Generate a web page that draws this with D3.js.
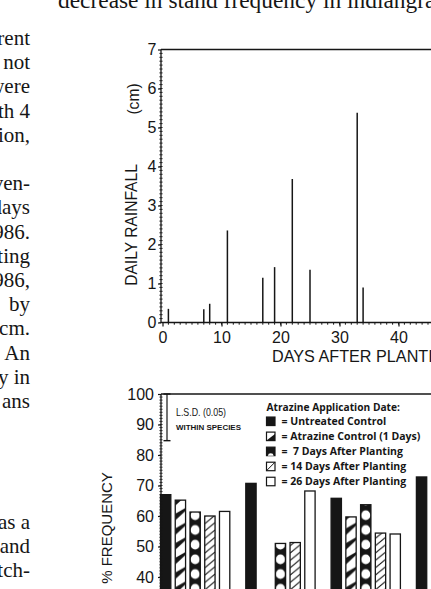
<!DOCTYPE html>
<html>
<head>
<meta charset="utf-8">
<script src="https://cdn.jsdelivr.net/npm/d3@7"></script>
<style>
html, body { margin: 0; padding: 0; background: #fff; }
svg { display: block; }
</style>
</head>
<body>
<svg id="chart" width="431" height="589"></svg>
<script>
// ---- data ----
var captionText = "decrease in stand frequency in indiangrass";
var columnLines = ["rent", "not", "were", "th 4", "ion,", "", "ven-", "days", "986.", "ting", "986,", "by", "cm.", "An", "y in", "ans", "", "", "", "", "as a", "and", "tch-"];

var rainDays = [1, 7, 8, 11, 17, 19, 22, 25, 33, 34];
var rainCm = [0.35, 0.34, 0.48, 2.36, 1.15, 1.42, 3.68, 1.35, 5.38, 0.90];
var rainTicksY = [0, 1, 2, 3, 4, 5, 6, 7];
var rainTicksX = [0, 10, 20, 30, 40, 50];

var species = ["Species 1", "Species 2", "Species 3", "Species 4"];
var treatments = ["Untreated Control", "Atrazine Control (1 Days)", " 7 Days After Planting", "14 Days After Planting", "26 Days After Planting"];
var freqUntreated = [67.0, 70.7, 65.8, 72.8];
var freqAtrControl = [65.2, null, 59.7, null];
var freq7Days = [61.3, 51.0, 63.7, null];
var freq14Days = [60.0, 51.3, 54.4, null];
var freq26Days = [61.5, 68.2, 54.1, null];
var freqTicks = [40, 50, 60, 70, 80, 90, 100];
var lsdValue = 15.3;

var ink = "#161616";
var sans = "'Liberation Sans', Arial, sans-serif";
var serif = "'Liberation Serif', 'Times New Roman', serif";
var legendFont = "'Open Sans', sans-serif";

var svg = d3.select("#chart");
svg.append("rect").attr("width", 431).attr("height", 589).attr("fill", "#fff");

// ---- body text fragments ----
svg.append("text")
    .attr("x", 58).attr("y", 8)
    .attr("font-family", serif).attr("font-size", 23.4).attr("fill", ink)
    .text(captionText);

svg.append("g").selectAll("text")
    .data(columnLines)
    .enter().append("text")
    .attr("x", 30)
    .attr("y", function (d, i) { return 45 + i * 24.2; })
    .attr("text-anchor", "end")
    .attr("font-family", serif).attr("font-size", 21).attr("fill", ink)
    .text(function (d) { return d; });

// ---- rainfall chart ----
var xDay = d3.scaleLinear().domain([0, 50]).range([162.5, 457.5]);
var yRain = d3.scaleLinear().domain([0, 7]).range([322.5, 49.5]);
var rainLeft = 161;

var top1 = svg.append("g");
// frame
top1.append("line").attr("x1", rainLeft).attr("x2", 440).attr("y1", yRain(7)).attr("y2", yRain(7))
    .attr("stroke", ink).attr("stroke-width", 1.6);
top1.append("line").attr("x1", rainLeft).attr("x2", 440).attr("y1", yRain(0)).attr("y2", yRain(0))
    .attr("stroke", ink).attr("stroke-width", 1.3);
top1.append("line").attr("x1", rainLeft).attr("x2", rainLeft).attr("y1", yRain(7)).attr("y2", yRain(0))
    .attr("stroke", ink).attr("stroke-width", 1.3);

// minor ticks
top1.append("g").selectAll("line")
    .data(d3.range(0, 70))
    .enter().append("line")
    .attr("x1", rainLeft - 1.6).attr("x2", rainLeft + 1.6)
    .attr("y1", function (d) { return yRain(d / 10); })
    .attr("y2", function (d) { return yRain(d / 10); })
    .attr("stroke", ink).attr("stroke-width", 0.9);
top1.append("g").selectAll("line")
    .data(d3.range(1, 50))
    .enter().append("line")
    .attr("x1", function (d) { return xDay(d); })
    .attr("x2", function (d) { return xDay(d); })
    .attr("y1", yRain(0)).attr("y2", yRain(0) + 2.2)
    .attr("stroke", ink).attr("stroke-width", 1);

var yAxisRain = d3.axisLeft(yRain).tickValues(rainTicksY).tickFormat(d3.format("d"))
    .tickSize(3).tickSizeOuter(0).tickPadding(1.5);
top1.append("g")
    .attr("transform", "translate(" + rainLeft + ",0)")
    .call(yAxisRain)
    .call(function (g) { g.select(".domain").remove(); })
    .call(function (g) {
        g.selectAll("line").attr("stroke", ink).attr("stroke-width", 1.2);
        g.selectAll("text").attr("font-family", sans).attr("font-size", 16).attr("fill", ink);
    });

var xAxisRain = d3.axisBottom(xDay).tickValues(rainTicksX).tickFormat(d3.format("d"))
    .tickSize(4).tickSizeOuter(0).tickPadding(5);
top1.append("g")
    .attr("transform", "translate(0," + yRain(0) + ")")
    .call(xAxisRain)
    .call(function (g) { g.select(".domain").remove(); })
    .call(function (g) {
        g.selectAll("line").attr("stroke", ink).attr("stroke-width", 1.2);
        g.selectAll("text").attr("font-family", sans).attr("font-size", 16).attr("fill", ink);
    });

top1.append("g").selectAll("line")
    .data(rainDays)
    .enter().append("line")
    .attr("x1", function (d) { return xDay(d); })
    .attr("x2", function (d) { return xDay(d); })
    .attr("y1", yRain(0))
    .attr("y2", function (d, i) { return yRain(rainCm[i]); })
    .attr("stroke", ink).attr("stroke-width", 1.5);

top1.append("text")
    .attr("transform", "translate(136.5," + 225 + ") rotate(-90)")
    .attr("text-anchor", "middle")
    .attr("font-family", sans).attr("font-size", 15.6).attr("fill", ink)
    .text("DAILY RAINFALL");
top1.append("text")
    .attr("transform", "translate(139," + 99 + ") rotate(-90)")
    .attr("text-anchor", "middle")
    .attr("font-family", sans).attr("font-size", 15.6).attr("fill", ink)
    .text("(cm)");
top1.append("text")
    .attr("x", 272).attr("y", 362)
    .attr("font-family", sans).attr("font-size", 16.2).attr("fill", ink)
    .text("DAYS AFTER PLANTING");

// ---- stand frequency chart ----
var yFreq = d3.scaleLinear().domain([0, 100]).range([699, 394]);
var xSpecies = d3.scaleBand().domain(species).range([160.5, 485.7]).paddingInner(0.1876).paddingOuter(0);
var xTreat = d3.scaleBand().domain(treatments).range([0, xSpecies.bandwidth()]).paddingInner(0.3);
var bw = xTreat.bandwidth();
var ph = 14.7;
var freqLeft = 161;

var defs = svg.append("defs");
// solid
defs.append("pattern").attr("id", "pat0").attr("patternUnits", "userSpaceOnUse")
    .attr("width", bw).attr("height", ph)
    .append("rect").attr("width", bw).attr("height", ph).attr("fill", ink);
// wedge stripes
var p1 = defs.append("pattern").attr("id", "pat1").attr("patternUnits", "userSpaceOnUse")
    .attr("width", bw).attr("height", ph);
p1.append("rect").attr("width", bw).attr("height", ph).attr("fill", "#fff");
[-ph, 0, ph].forEach(function (o) {
    p1.append("path")
        .attr("d", "M0," + (o + 6) + "L" + bw + "," + o + "L" + bw + "," + (o + 3) + "L0," + (o + 12.5) + "Z")
        .attr("fill", ink);
});
// circles
var p2 = defs.append("pattern").attr("id", "pat2").attr("patternUnits", "userSpaceOnUse")
    .attr("width", bw).attr("height", ph);
p2.append("rect").attr("width", bw).attr("height", ph).attr("fill", ink);
p2.append("ellipse").attr("cx", bw / 2).attr("cy", ph / 2).attr("rx", 4.6).attr("ry", 5).attr("fill", "#fff");
// thin hatch
var hp = ph / 2;
var p3 = defs.append("pattern").attr("id", "pat3").attr("patternUnits", "userSpaceOnUse")
    .attr("width", bw).attr("height", hp);
p3.append("rect").attr("width", bw).attr("height", hp).attr("fill", "#fff");
[-hp, 0, hp].forEach(function (o) {
    p3.append("line").attr("x1", 0).attr("y1", o + 8.5).attr("x2", bw).attr("y2", o)
        .attr("stroke", ink).attr("stroke-width", 1.1);
});
// open
defs.append("pattern").attr("id", "pat4").attr("patternUnits", "userSpaceOnUse")
    .attr("width", bw).attr("height", ph)
    .append("rect").attr("width", bw).attr("height", ph).attr("fill", "#fff");

var seriesByTreatment = [freqUntreated, freqAtrControl, freq7Days, freq14Days, freq26Days];
var barRows = [];
species.forEach(function (s, i) {
    treatments.forEach(function (t, j) {
        var v = seriesByTreatment[j][i];
        if (v !== null) barRows.push({ species: s, treatment: t, k: j, value: v });
    });
});

var bot = svg.append("g");
var bars = bot.selectAll("g.bar")
    .data(barRows)
    .enter().append("g")
    .attr("class", "bar")
    .attr("transform", function (d) {
        return "translate(" + (xSpecies(d.species) + xTreat(d.treatment)) + "," + yFreq(0) + ")";
    });
bars.append("rect")
    .attr("x", 0)
    .attr("y", function (d) { return yFreq(d.value) - yFreq(0); })
    .attr("width", bw)
    .attr("height", function (d) { return yFreq(0) - yFreq(d.value); })
    .attr("fill", function (d) { return "url(#pat" + d.k + ")"; })
    .attr("stroke", ink).attr("stroke-width", 1.3);

// frame
bot.append("line").attr("x1", freqLeft).attr("x2", 440).attr("y1", yFreq(100)).attr("y2", yFreq(100))
    .attr("stroke", ink).attr("stroke-width", 1.6);
bot.append("line").attr("x1", freqLeft).attr("x2", freqLeft).attr("y1", yFreq(100)).attr("y2", 600)
    .attr("stroke", ink).attr("stroke-width", 1.3);
bot.append("g").selectAll("line")
    .data(d3.range(30, 100))
    .enter().append("line")
    .attr("x1", freqLeft - 1.6).attr("x2", freqLeft + 1.6)
    .attr("y1", function (d) { return yFreq(d); })
    .attr("y2", function (d) { return yFreq(d); })
    .attr("stroke", ink).attr("stroke-width", 0.8);

var yAxisFreq = d3.axisLeft(yFreq).tickValues(freqTicks).tickFormat(d3.format("d"))
    .tickSize(3).tickSizeOuter(0).tickPadding(4);
bot.append("g")
    .attr("transform", "translate(" + freqLeft + ",0)")
    .call(yAxisFreq)
    .call(function (g) { g.select(".domain").remove(); })
    .call(function (g) {
        g.selectAll("line").attr("stroke", ink).attr("stroke-width", 1.2);
        g.selectAll("text").attr("font-family", sans).attr("font-size", 16).attr("fill", ink);
    });

bot.append("text")
    .attr("transform", "translate(112," + 528 + ") rotate(-90)")
    .attr("text-anchor", "middle")
    .attr("font-family", sans).attr("font-size", 15).attr("fill", ink)
    .text("% FREQUENCY");

// LSD bar
var lsdX = 167;
bot.append("line").attr("x1", lsdX).attr("x2", lsdX).attr("y1", yFreq(100)).attr("y2", yFreq(100 - lsdValue))
    .attr("stroke", ink).attr("stroke-width", 1.2);
[100, 100 - lsdValue].forEach(function (v) {
    bot.append("line").attr("x1", lsdX - 3.5).attr("x2", lsdX + 3.5).attr("y1", yFreq(v)).attr("y2", yFreq(v))
        .attr("stroke", ink).attr("stroke-width", 1.4);
});
bot.append("text").attr("x", 176).attr("y", 416)
    .attr("font-family", sans).attr("font-size", 10.5).attr("fill", ink)
    .attr("textLength", 50).attr("lengthAdjust", "spacingAndGlyphs")
    .text("L.S.D. (0.05)");
bot.append("text").attr("x", 176).attr("y", 429.5)
    .attr("font-family", sans).attr("font-size", 7.4).attr("font-weight", "bold").attr("fill", ink)
    .attr("textLength", 65).attr("lengthAdjust", "spacingAndGlyphs")
    .text("WITHIN SPECIES");

// legend
var lg = bot.append("g");
lg.append("text").attr("x", 266.5).attr("y", 410.8)
    .attr("font-family", legendFont).attr("font-size", 10.2).attr("font-weight", 700).attr("fill", ink)
    .text("Atrazine Application Date:");
var rows = lg.selectAll("g.row")
    .data(treatments)
    .enter().append("g")
    .attr("class", "row")
    .attr("transform", function (d, i) { return "translate(266.5," + (421.3 + i * 15.05) + ")"; });
var sq = 8.5;
rows.append("rect").attr("x", 0).attr("y", -sq / 2).attr("width", sq).attr("height", sq)
    .attr("fill", function (d, i) { return i === 0 ? ink : (i === 2 ? ink : "#fff"); })
    .attr("stroke", ink).attr("stroke-width", 1.2);
rows.filter(function (d, i) { return i === 1; }).append("path")
    .attr("d", "M0," + (sq / 2) + "L" + sq + "," + (sq / 2) + "L" + sq + "," + (-sq / 2 + 2) + "Z")
    .attr("fill", ink);
rows.filter(function (d, i) { return i === 2; }).append("path")
    .attr("d", "M1.3," + (sq / 2) + "A3,3 0 0 1 " + (sq - 1.3) + "," + (sq / 2) + "Z")
    .attr("fill", "#fff");
rows.filter(function (d, i) { return i === 3; }).append("line")
    .attr("x1", 0).attr("y1", sq / 2).attr("x2", sq).attr("y2", -sq / 2)
    .attr("stroke", ink).attr("stroke-width", 1);
rows.append("text")
    .attr("x", 15).attr("y", 3.6)
    .attr("font-family", legendFont).attr("font-size", 10.5).attr("font-weight", 700).attr("fill", ink)
    .attr("xml:space", "preserve")
    .text(function (d) { return "= " + d; });
</script>
</body>
</html>
